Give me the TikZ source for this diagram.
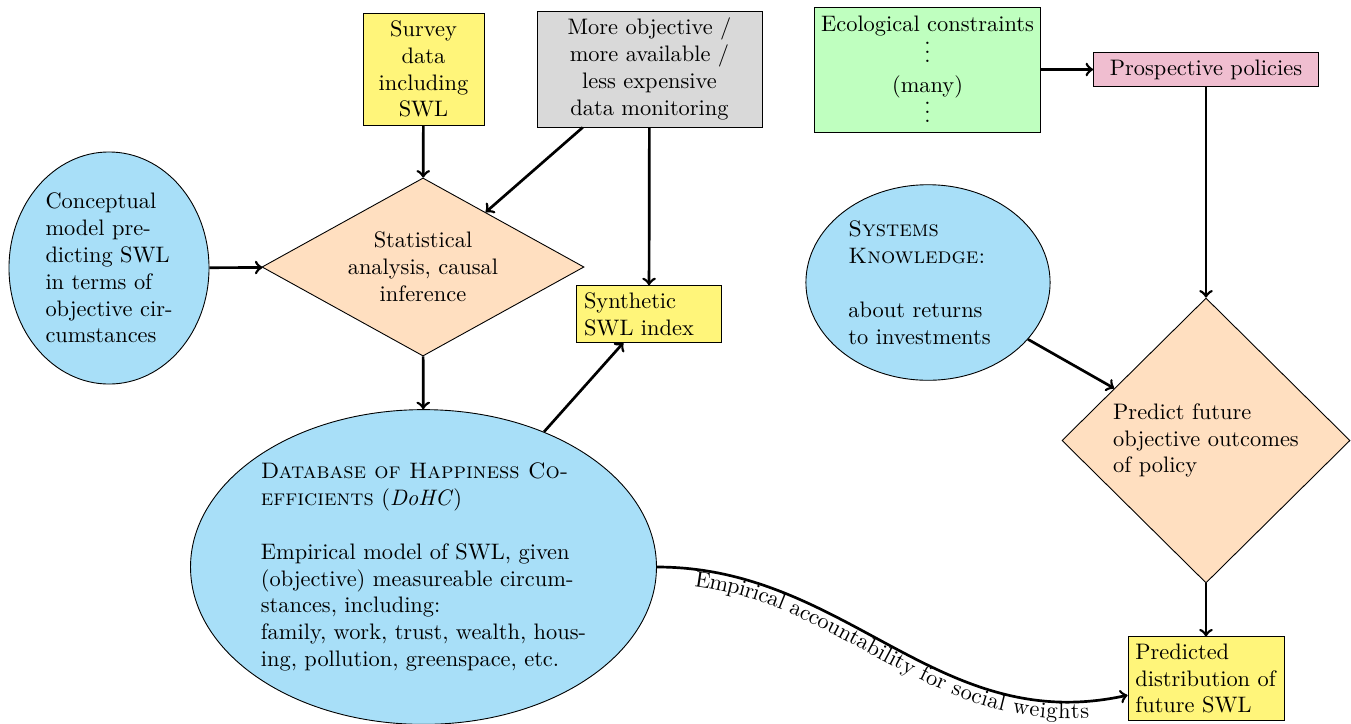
\documentclass[tikz,border=0pt]{standalone}
\usetikzlibrary{shapes.geometric,decorations.text}
\definecolor{swlyellow}{RGB}{255,245,122}
\definecolor{ellblue}{RGB}{168,223,248}
\definecolor{polpink}{RGB}{240,190,208}
\definecolor{decorange}{RGB}{255,223,192}
\definecolor{ecogreen}{RGB}{191,255,191}
\definecolor{datagray}{RGB}{217,217,217}
\tikzset{
  box/.style={draw, rectangle, inner sep=3pt},
  ell/.style={draw, ellipse, fill=ellblue, inner sep=0pt},
  dec/.style={draw, diamond, fill=decorange, inner sep=0pt},
  conn/.style={->, very thick},
}
\begin{document}
\begin{tikzpicture}[x=0.4464pt, y=-0.4464pt]
\useasboundingbox (0,0) rectangle (1351,723);

\node[box, fill=swlyellow, minimum width=54pt, minimum height=50pt, align=center] (survey) at (423.5,69) {Survey\\data\\including\\SWL};
\node[box, fill=datagray, minimum width=100.4pt, minimum height=51.8pt, align=center] (gray) at (649.5,69) {More objective /\\more available /\\less expensive\\data monitoring};
\node[box, fill=ecogreen, minimum width=100.4pt, minimum height=55.8pt, align=center] (eco) at (927.5,69.5) {Ecological constraints\\[1.5pt]\smash{$\vdots$}\\[1.5pt](many)\\[1.5pt]\smash{$\vdots$}};
\node[box, fill=polpink, minimum width=100.4pt, minimum height=14.7pt] (prosp) at (1206,69.5) {Prospective policies};

\node[ell, minimum width=89.3pt, minimum height=103.6pt, align=left] (concept) at (109,268) {Conceptual\\model pre-\\dicting SWL\\in terms of\\objective cir-\\cumstances};
\node[dec, shape aspect=1.81, minimum width=143.75pt, minimum height=79.5pt, align=center] (stat) at (423,267) {Statistical\\analysis, causal\\inference};
\node[box, fill=swlyellow, minimum width=64.7pt, minimum height=25pt, text width=58pt, align=left] (synth) at (649,314) {Synthetic\\\mbox{SWL index}};

\node[ell, minimum width=208pt, minimum height=140.5pt, align=left] (dohc) at (423.5,567) {\textsc{Database of Happiness Co-}\\\textsc{efficients} (\textit{DoHC})\\[\baselineskip]Empirical model of SWL, given\\(objective) measureable circum-\\stances, including:\\family, work, trust, wealth, hous-\\ing, pollution, greenspace, etc.};

\node[ell, minimum width=109pt, minimum height=87.3pt, text width=71pt, align=left] (systems) at (928,282.5) {\textsc{Systems}\\\textsc{Knowledge:}\\[\baselineskip]\mbox{about returns}\\\mbox{to investments}};
\node[dec, minimum width=128.6pt, minimum height=127.2pt, align=left] (predict) at (1206,440.5) {Predict future\\objective outcomes\\of policy};
\node[box, fill=swlyellow, minimum width=69.6pt, minimum height=37pt, text width=63pt, align=left] (pred) at (1206,678.5) {Predicted\\\mbox{distribution of}\\\mbox{future SWL}};

\draw[conn] (survey) -- (stat);
\draw[conn] (gray) -- (stat);
\draw[conn] (gray) -- (synth);
\draw[conn] (concept) -- (stat);
\draw[conn] (stat) -- (dohc);
\draw[conn] (dohc) -- (synth);
\draw[conn] (eco) -- (prosp);
\draw[conn] (prosp) -- (predict);
\draw[conn] (systems) -- (predict);
\draw[conn] (predict) -- (pred);
\draw[conn, postaction={decorate, decoration={text along path, text align=center, raise=-7.5pt, text={Empirical accountability for social weights}}}]
  (dohc.east) .. controls +(191,0) and +(-190,42) .. (pred.192);
\end{tikzpicture}
\end{document}
